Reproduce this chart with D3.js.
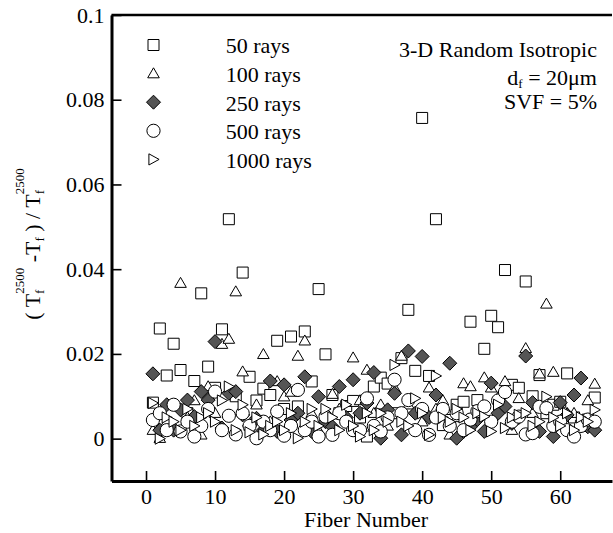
<!DOCTYPE html>
<html>
<head>
<meta charset="utf-8">
<script src="https://cdn.jsdelivr.net/npm/d3@7"></script>
<style>
  body { margin: 0; background: #fff; }
  text { font-family: "Liberation Serif", "Times New Roman", serif; fill: #000; }
</style>
</head>
<body>
<script>
var width = 613;
var height = 533;

// fiber numbers (x)
var fiber = [1,2,3,4,5,6,7,8,9,10,11,12,13,14,15,16,17,18,19,20,
             21,22,23,24,25,26,27,28,29,30,31,32,33,34,35,36,37,38,39,40,
             41,42,43,44,45,46,47,48,49,50,51,52,53,54,55,56,57,58,59,60,
             61,62,63,64,65];

// (Tf2500 - Tf) / Tf2500 for each ray count
var rays50 = [0.0085,0.026,0.0149,0.0224,0.0162,0.006,0.0136,0.0343,0.017,0.012,
              0.0258,0.0518,0.010,0.0392,0.0146,0.009,0.0118,0.0103,0.0231,0.007,
              0.0241,0.0076,0.0253,0.0135,0.0353,0.0199,0.0103,0.006,0.0077,0.0089,
              0.005,0.0005,0.0123,0.0144,0.013,0.006,0.019,0.0304,0.016,0.0757,
              0.0148,0.0518,0.0032,0.0044,0.008,0.0087,0.0276,0.0091,0.0212,0.029,
              0.0263,0.0398,0.0127,0.012,0.0371,0.010,0.015,0.006,0.008,0.0087,
              0.0154,0.005,0.003,0.0045,0.0097];
var rays100 = [0.002,0.0001,0.004,0.003,0.0367,0.005,0.009,0.0009,0.0123,0.006,
               0.0223,0.0235,0.0347,0.0158,0.003,0.008,0.0199,0.004,0.0135,0.0099,
               0.011,0.0195,0.0231,0.006,0.002,0.004,0.0105,0.007,0.005,0.0191,
               0.009,0.0162,0.006,0.008,0.003,0.012,0.0195,0.008,0.0023,0.004,
               0.012,0.007,0.009,0.0009,0.005,0.013,0.0123,0.006,0.0144,0.012,
               0.0097,0.0135,0.002,0.0095,0.0213,0.006,0.0153,0.0318,0.0157,0.004,
               0.006,0.006,0.003,0.009,0.0129];
var rays250 = [0.0153,0.002,0.008,0.002,0.0068,0.0091,0.0052,0.0111,0.0091,0.0229,
               0.0025,0.0107,0.0111,0.0056,0.003,0.0048,0.002,0.0136,0.0017,0.0127,
               0.0044,0.006,0.0146,0.0017,0.0099,0.004,0.0028,0.0123,0.005,0.0139,
               0.006,0.0084,0.0156,0.0001,0.0068,0.0107,0.0009,0.0207,0.006,0.0194,
               0.005,0.0103,0.0068,0.0178,0.0001,0.0017,0.0028,0.0045,0.0017,0.0131,
               0.006,0.0076,0.0036,0.005,0.0195,0.0085,0.0017,0.0072,0.0005,0.0085,
               0.0056,0.0103,0.0143,0.0028,0.002];
var rays500 = [0.0044,0.006,0.002,0.008,0.0017,0.004,0.0005,0.003,0.007,0.0111,
               0.002,0.0054,0.001,0.006,0.003,0.0001,0.004,0.002,0.0064,0.0007,
               0.003,0.0115,0.002,0.004,0.0005,0.0052,0.0009,0.006,0.004,0.002,
               0.002,0.0095,0.003,0.0017,0.005,0.0139,0.006,0.0091,0.002,0.007,
               0.0009,0.005,0.007,0.003,0.006,0.002,0.0045,0.0065,0.0076,0.004,
               0.009,0.011,0.004,0.0052,0.001,0.0013,0.0075,0.0072,0.003,0.004,
               0.002,0.0005,0.003,0.0045,0.004];
var rays1000 = [0.0084,0.0,0.005,0.004,0.002,0.007,0.003,0.005,0.006,0.004,
                0.009,0.0123,0.002,0.008,0.0015,0.005,0.001,0.003,0.004,0.002,
                0.006,0.0001,0.004,0.007,0.003,0.007,0.005,0.002,0.008,0.003,
                0.0005,0.006,0.002,0.006,0.004,0.0174,0.004,0.003,0.0095,0.006,
                0.0009,0.0148,0.005,0.004,0.007,0.005,0.002,0.006,0.0052,0.0017,
                0.008,0.0025,0.005,0.0056,0.006,0.003,0.004,0.0099,0.005,0.003,
                0.006,0.002,0.005,0.004,0.0068];

var seriesNames = ['50 rays', '100 rays', '250 rays', '500 rays', '1000 rays'];
var seriesValues = [rays50, rays100, rays250, rays500, rays1000];
var seriesShapes = ['square', 'triangle', 'diamond', 'circle', 'triangleRight'];

var xTicks = [0, 10, 20, 30, 40, 50, 60];
var yTicks = [0, 0.02, 0.04, 0.06, 0.08, 0.1];
var yTickLabels = ['0', '0.02', '0.04', '0.06', '0.08', '0.1'];

var markerPath = {
  square: function() { return 'M-5.5,-5.5h11v11h-11z'; },
  triangle: function() { return 'M0,-5.8L5.8,4.2L-5.8,4.2z'; },
  diamond: function() { return 'M0,-7L7,0L0,7L-7,0z'; },
  circle: function() { return 'M6.6,0A6.6,6.6 0 1,1 -6.6,0A6.6,6.6 0 1,1 6.6,0z'; },
  triangleRight: function() { return 'M-4.6,-5.6L5.6,0L-4.6,5.6z'; }
};
var markerFill = { square: '#fff', triangle: '#fff', diamond: '#555', circle: '#fff', triangleRight: '#fff' };

var serif = '"Liberation Serif", "Times New Roman", serif';

var svg = d3.select('body').append('svg')
  .attr('width', width)
  .attr('height', height)
  .attr('font-family', serif);

svg.append('rect').attr('width', width).attr('height', height).attr('fill', '#fff');

var x = d3.scaleLinear().domain([-5, 67.5]).range([111.5, 612]);
var y = d3.scaleLinear().domain([-0.01, 0.1]).range([481, 15]);

// data points
seriesValues.forEach(function(vals, i) {
  var shape = seriesShapes[i];
  svg.append('g')
    .attr('class', 'series')
    .selectAll('path')
    .data(vals)
    .enter().append('path')
    .attr('transform', function(d, j) { return 'translate(' + x(fiber[j]) + ',' + y(d) + ')'; })
    .attr('d', markerPath[shape])
    .attr('fill', markerFill[shape])
    .attr('stroke', '#000')
    .attr('stroke-width', 1);
});

// axes
var minorX = d3.range(-4, 68, 2).filter(function(v) { return v % 10 !== 0; });
var minorY = d3.range(-2, 26).map(function(k) { return k * 0.004; }).filter(function(v, k) { return (k - 2) % 5 !== 0; });

var xAxis = d3.axisBottom(x).tickValues(xTicks).tickSize(-10).tickSizeOuter(0).tickPadding(7);
var xMinor = d3.axisBottom(x).tickValues(minorX).tickSize(-6).tickSizeOuter(0).tickFormat('');
var yAxis = d3.axisLeft(y).tickValues(yTicks).tickSize(-10).tickSizeOuter(0).tickPadding(7)
  .tickFormat(function(d, i) { return yTickLabels[i]; });
var yMinor = d3.axisLeft(y).tickValues(minorY).tickSize(-6).tickSizeOuter(0).tickFormat('');

var gx = svg.append('g').attr('transform', 'translate(0,' + y(-0.01) + ')');
gx.call(xMinor);
gx.call(xAxis);
var gy = svg.append('g').attr('transform', 'translate(' + x(-5) + ',0)');
gy.call(yMinor);
gy.call(yAxis);

svg.selectAll('.domain').attr('stroke', '#000').attr('stroke-width', 3);
svg.selectAll('.tick line').attr('stroke', '#000').attr('stroke-width', 1.6);
gx.attr('font-family', serif);
gy.attr('font-family', serif);
svg.selectAll('.tick text').style('font-size', '22px').style('font-family', serif);

// top border
svg.append('line')
  .attr('x1', x(-5)).attr('x2', 612)
  .attr('y1', y(0.1)).attr('y2', y(0.1))
  .attr('stroke', '#000').attr('stroke-width', 2.5);

// x label
svg.append('text')
  .attr('x', 366).attr('y', 527)
  .attr('text-anchor', 'middle')
  .style('font-size', '22px')
  .text('Fiber Number');

// y label
var ylab = svg.append('text')
  .attr('transform', 'translate(40,244) rotate(-90)')
  .attr('text-anchor', 'middle')
  .style('font-size', '22px');
ylab.append('tspan').text('( T');
ylab.append('tspan').attr('dy', 4).style('font-size', '13px').text('f');
ylab.append('tspan').attr('dx', -4.3).attr('dy', -20).style('font-size', '13px').text('2500');
ylab.append('tspan').attr('dy', 16).text(' -T');
ylab.append('tspan').attr('dy', 4).style('font-size', '13px').text('f');
ylab.append('tspan').attr('dy', -4).text(' ) / T');
ylab.append('tspan').attr('dy', 4).style('font-size', '13px').text('f');
ylab.append('tspan').attr('dx', -4.3).attr('dy', -20).style('font-size', '13px').text('2500');

// legend
var legend = svg.append('g').attr('class', 'legend');
seriesNames.forEach(function(name, i) {
  var cy = 45 + i * 28.6;
  legend.append('path')
    .attr('transform', 'translate(153.5,' + cy + ')')
    .attr('d', markerPath[seriesShapes[i]])
    .attr('fill', markerFill[seriesShapes[i]])
    .attr('stroke', '#000')
    .attr('stroke-width', 1);
  legend.append('text')
    .attr('x', 225.7).attr('y', cy + 8.3)
    .style('font-size', '22px')
    .text(name);
});

// annotation
svg.append('text')
  .attr('x', 597).attr('y', 57)
  .attr('text-anchor', 'end')
  .style('font-size', '22px')
  .text('3-D Random Isotropic');
var df = svg.append('text')
  .attr('x', 597).attr('y', 85)
  .attr('text-anchor', 'end')
  .style('font-size', '22px');
df.append('tspan').text('d');
df.append('tspan').attr('dy', 3).style('font-size', '13px').text('f');
df.append('tspan').attr('dy', -3).text(' = 20\u03bcm');
svg.append('text')
  .attr('x', 597).attr('y', 109)
  .attr('text-anchor', 'end')
  .style('font-size', '22px')
  .text('SVF = 5%');
</script>
</body>
</html>
